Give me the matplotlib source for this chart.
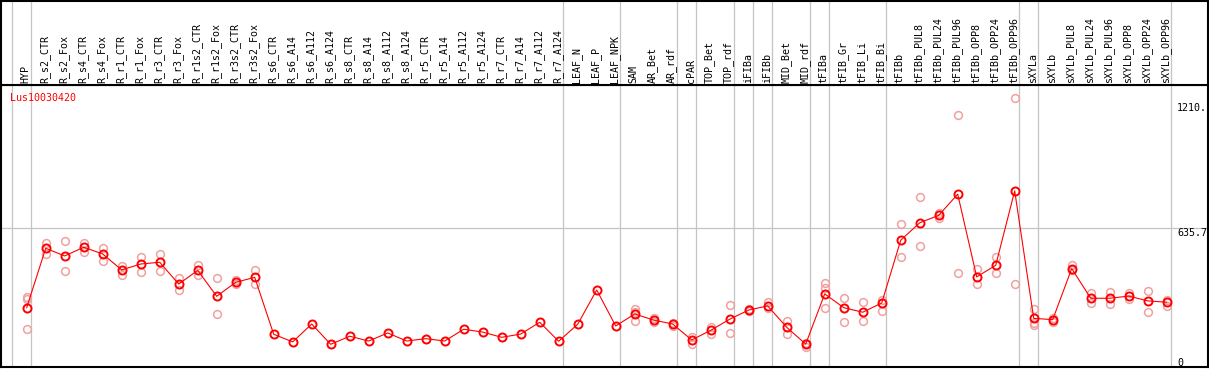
import matplotlib
matplotlib.use("Agg")
import matplotlib.pyplot as plt
import matplotlib.transforms as mtransforms

categories = ["HYP", "R_s2_CTR", "R_s2_Fox", "R_s4_CTR", "R_s4_Fox", "R_r1_CTR", "R_r1_Fox",
              "R_r3_CTR", "R_r3_Fox", "R_r1s2_CTR", "R_r1s2_Fox", "R_r3s2_CTR", "R_r3s2_Fox",
              "R_s6_CTR", "R_s6_A14", "R_s6_A112", "R_s6_A124", "R_s8_CTR", "R_s8_A14",
              "R_s8_A112", "R_s8_A124", "R_r5_CTR", "R_r5_A14", "R_r5_A112", "R_r5_A124",
              "R_r7_CTR", "R_r7_A14", "R_r7_A112", "R_r7_A124", "LEAF_N", "LEAF_P", "LEAF_NPK",
              "SAM", "AR_Bet", "AR_rdf", "cPAR", "TOP_Bet", "TOP_rdf", "iFIBa", "iFIBb",
              "MID_Bet", "MID_rdf", "tFIBa", "tFIB_Gr", "tFIB_Li", "tFIB_Bi", "tFIBb",
              "tFIBb_PUL8", "tFIBb_PUL24", "tFIBb_PUL96", "tFIBb_OPP8", "tFIBb_OPP24",
              "tFIBb_OPP96", "sXYLa", "sXYLb", "sXYLb_PUL8", "sXYLb_PUL24", "sXYLb_PUL96",
              "sXYLb_OPP8", "sXYLb_OPP24", "sXYLb_OPP96"]

means = [272, 544, 509, 549, 518, 445, 472, 480, 380, 443, 324, 388, 411,
         150, 115, 197, 104, 141, 119, 156, 119, 130, 119, 173, 160, 136, 151, 205, 118,
         196, 353, 188, 243, 215, 197, 124, 168, 219, 261, 280, 182, 105,
         335, 272, 251, 293, 581, 661, 695, 792, 413, 466, 807,
         223, 217, 451, 315, 315, 325, 303, 297]

replicates = [[319, 310, 174], [570, 518], [576, 440], [570, 528], [544, 487], [464, 422],
              [504, 434], [518, 440], [408, 352], [468, 420], [407, 242], [399, 380], [445, 382],
              [], [], [], [], [], [], [], [], [], [], [], [], [], [], [], [], [], [], [],
              [264, 250, 212], [226, 205], [203, 188], [139, 105], [185, 151], [284, 154],
              [268, 255], [297, 272], [212, 151], [110, 92], [384, 361, 269], [315, 205],
              [297, 212], [307, 258], [654, 503], [779, 553], [707, 684], [1154, 429],
              [449, 379], [503, 429], [1232, 379], [267, 203, 193], [226, 205], [466, 445],
              [338, 295], [345, 287], [341, 313], [348, 251], [307, 281]]

gene_name = "Lus10030420"
group_ends = [-1, 0, 28, 31, 34, 35, 37, 38, 39, 41, 42, 45, 52, 53, 60]
axis_labels = ["1210.", "635.7", "0"]
axis_values = [1210, 635.7, 0]
grid_value = 635.7

W, H = 1209, 370
fig = plt.figure(figsize=(W / 100, H / 100), dpi=100)
font = "DejaVu Sans Mono"
fs = 7.2

x0_px, dx_px = 26.7, 19.0
xlim = ((1 - x0_px) / dx_px, (1208 - x0_px) / dx_px)
ymax = (367 - 85) * 4.583

ax = fig.add_axes([1 / W, (H - 367) / H, 1207 / W, 282 / H])
axh = fig.add_axes([1 / W, (H - 85) / H, 1207 / W, 84 / H])

for a in (ax, axh):
    a.set_xlim(*xlim)
    a.set_xticks([])
    a.set_yticks([])
    for s in a.spines.values():
        s.set_linewidth(1.5)
        s.set_color("black")
    for g in group_ends:
        a.axvline(g + 0.21, color="#c4c4c4", lw=0.9, zorder=1)

ax.set_ylim(0, ymax)
axh.set_ylim(85, 0)

ax.axhline(grid_value, color="#c4c4c4", lw=0.9, zorder=1)

xs = list(range(len(categories)))
for i, reps in enumerate(replicates):
    if reps:
        ax.plot([i] * len(reps), reps, linestyle="none", marker="o", markersize=5.6,
                markerfacecolor="none", markeredgecolor="#f0a0a0", markeredgewidth=1.1,
                zorder=2)

ax.plot(xs, means, color="red", lw=0.8, marker="o", markersize=5.8,
        markerfacecolor="none", markeredgecolor="red", markeredgewidth=1.4, zorder=3)

for i, c in enumerate(categories):
    axh.text(i - 0.05, 83, c, rotation=90, ha="center", va="bottom",
             fontsize=fs, family=font, color="black")

fig.text(10 / W, 1 - 98 / H, gene_name, ha="left", va="center", color="red",
         fontsize=fs, family=font)

for lab, v in zip(axis_labels, axis_values):
    if v == 0:
        ax.text(62.174 - (1208 - 1177) / dx_px, 1.5 * 4.583, lab, ha="left", va="baseline",
                fontsize=fs, family=font, color="black")
    else:
        ax.text(62.174 - (1208 - 1177) / dx_px, v, lab, ha="left", va="top",
                fontsize=fs, family=font, color="black")

fig.savefig("out.png", dpi=100)
